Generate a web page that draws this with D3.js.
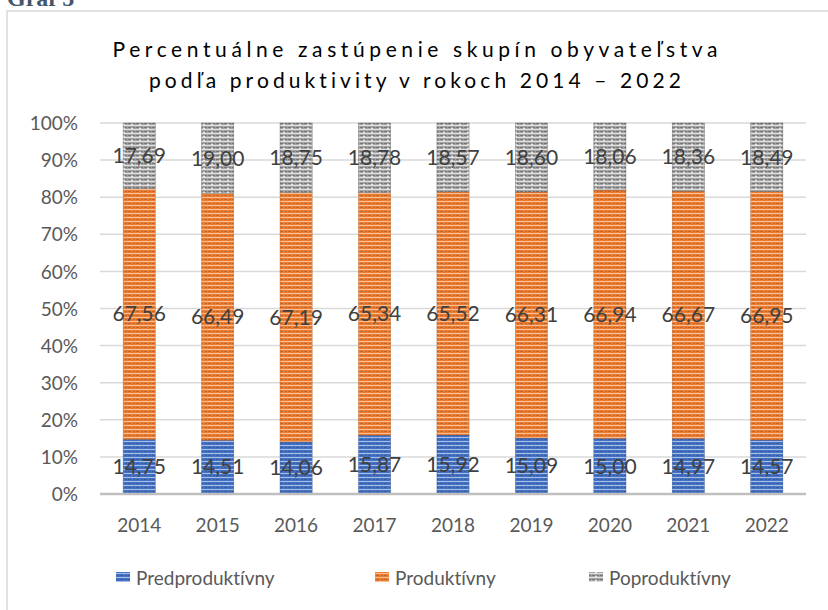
<!DOCTYPE html>
<html><head><meta charset="utf-8">
<script src="https://cdn.jsdelivr.net/npm/d3@7"></script>
<style>body{margin:0;background:#fff;} svg{display:block;} text{font-variant-ligatures:none;font-feature-settings:"liga" 0;}</style>
</head><body>
<script>
const years = ["2014","2015","2016","2017","2018","2019","2020","2021","2022"];
const predproduktivny = [14.75,14.51,14.06,15.87,15.92,15.09,15.00,14.97,14.57];
const produktivny = [67.56,66.49,67.19,65.34,65.52,66.31,66.94,66.67,66.95];
const poproduktivny = [17.69,19.00,18.75,18.78,18.57,18.60,18.06,18.36,18.49];
const seriesNames = ["Predproduktívny","Produktívny","Poproduktívny"];
const yTicks = [0,10,20,30,40,50,60,70,80,90,100];
const titleLines = ["Percentuálne zastúpenie skupín obyvateľstva","podľa produktivity v rokoch 2014 – 2022"];

const W=828,H=610;
const svg=d3.select("body").append("svg").attr("width",W).attr("height",H);
const font="Lato, 'Open Sans', sans-serif";

const colors=[{base:"#4472C4",light:"#A9BEE6",dark:"#2F4F8F"},{base:"#ED7D31",light:"#F7BE95",dark:"#A9561F"},{base:"#A5A5A5",light:"#E0E0E0",dark:"#555555"}];
const defs=svg.append("defs");
colors.forEach((c,i)=>{
  const p=defs.append("pattern").attr("id","pat"+i).attr("patternUnits","userSpaceOnUse").attr("width",8).attr("height",4);
  p.append("rect").attr("width",8).attr("height",4).attr("fill",c.base);
  p.append("rect").attr("y",1).attr("width",8).attr("height",1).attr("fill",c.light);
  p.append("rect").attr("x",0).attr("y",3).attr("width",3).attr("height",1).attr("fill",c.dark).attr("opacity",0.6);
  p.append("rect").attr("x",5).attr("y",3).attr("width",2).attr("height",1).attr("fill",c.dark).attr("opacity",0.6);
  if(i===2){p.append("rect").attr("x",3).attr("y",0).attr("width",2).attr("height",1).attr("fill","#fff").attr("opacity",0.7);}
});

// Graf 5 header (cut at top as in reference)
svg.append("text").attr("x",7).attr("y",6).text("Graf 5")
  .attr("font-family","'Liberation Serif', 'DejaVu Serif', serif").attr("font-weight","bold")
  .attr("font-size",24).attr("fill","#44546A");
// chart border
svg.append("rect").attr("x",7).attr("y",11).attr("width",W+20).attr("height",H+20)
  .attr("fill","none").attr("stroke","#d9d9d9").attr("stroke-width",1.5);

// title
const tl=[{t:titleLines[0],y:57,len:605},{t:titleLines[1],y:88,len:532}];
tl.forEach(d=>{
  svg.append("text").attr("x",415).attr("y",d.y).attr("text-anchor","middle")
   .attr("font-family",font).attr("font-size",21).attr("fill","#000")
   .attr("textLength",d.len).attr("lengthAdjust","spacing").text(d.t);
});

const x=d3.scaleBand().domain(years).range([100,806]).paddingInner(0.59).paddingOuter(0.295);
const y=d3.scaleLinear().domain([0,100]).range([494,123]);

// gridlines
svg.append("g").selectAll("line").data(yTicks.filter(t=>t>0)).join("line")
  .attr("x1",100).attr("x2",806).attr("y1",d=>y(d)).attr("y2",d=>y(d))
  .attr("stroke","#d9d9d9").attr("stroke-width",1.5);

// y axis labels
const yAxis=d3.axisLeft(y).tickValues(yTicks).tickFormat(d=>d+"%").tickSize(0).tickPadding(0);
const ya=svg.append("g").attr("transform","translate(78,0)").call(yAxis);
ya.select(".domain").remove();
ya.selectAll("text").attr("font-family",font).attr("font-size",19).attr("fill","#595959").attr("dy","0.35em");

// stacks
const data=years.map((yr,i)=>({year:yr,a:predproduktivny[i],b:produktivny[i],c:poproduktivny[i]}));
const stack=d3.stack().keys(["a","b","c"])(data);
const g=svg.append("g");
stack.forEach((s,si)=>{
  g.append("g").selectAll("rect").data(s).join("rect")
   .attr("x",d=>x(d.data.year)).attr("width",x.bandwidth())
   .attr("y",d=>y(d[1])).attr("height",d=>y(d[0])-y(d[1]))
   .attr("fill","url(#pat"+si+")").attr("stroke",colors[si].dark).attr("stroke-width",0.6).attr("stroke-opacity",0.6);
});
// zero line
svg.append("line").attr("x1",100).attr("x2",806).attr("y1",y(0)).attr("y2",y(0)).attr("stroke","#bfbfbf").attr("stroke-width",2.5);

// labels
const fmt=d3.format(".2f");
stack.forEach((s,si)=>{
  svg.append("g").selectAll("text").data(s).join("text")
   .attr("x",d=>x(d.data.year)+x.bandwidth()/2).attr("y",d=>y((d[0]+d[1])/2))
   .attr("dy","0.35em").attr("text-anchor","middle")
   .attr("font-family",font).attr("font-size",21).attr("fill","#404040")
   .text(d=>fmt(d[1]-d[0]).replace(".",","));
});

// x axis labels
const xAxis=d3.axisBottom(x).tickSize(0).tickPadding(0);
const xa=svg.append("g").attr("transform","translate(0,525)").call(xAxis);
xa.select(".domain").remove();
xa.selectAll("text").attr("font-family",font).attr("font-size",19).attr("fill","#595959").attr("dy","0.35em");

// legend
const legX=[116,375,589];
seriesNames.forEach((n,i)=>{
  const lg=svg.append("g");
  lg.append("rect").attr("x",legX[i]).attr("y",572).attr("width",14).attr("height",10).attr("fill","url(#pat"+i+")");
  lg.append("text").attr("x",legX[i]+20).attr("y",578).attr("dy","0.35em")
   .attr("font-family",font).attr("font-size",19).attr("fill","#595959").text(n);
});
</script>
</body></html>
